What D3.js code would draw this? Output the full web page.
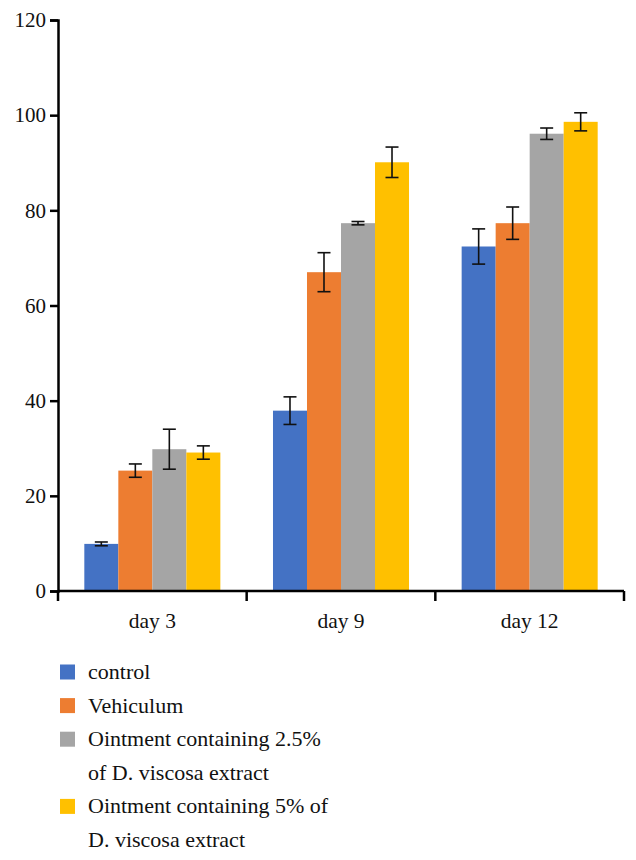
<!DOCTYPE html>
<html><head><meta charset="utf-8">
<script src="https://cdn.jsdelivr.net/npm/d3@7"></script>
<style>body{margin:0;background:#fff;} svg{display:block;}</style>
</head><body>
<svg id="chart" width="636" height="860"></svg>
<script>
const categories = ["day 3", "day 9", "day 12"];
const seriesNames = ["control", "Vehiculum", "Ointment containing 2.5% of D. viscosa extract", "Ointment containing 5% of D. viscosa extract"];
const legendLines = [["control"], ["Vehiculum"], ["Ointment containing 2.5%", "of D. viscosa extract"], ["Ointment containing 5% of", "D. viscosa extract"]];
const controlValues = [9.9, 37.9, 72.4];
const vehiculumValues = [25.3, 67.0, 77.3];
const oint25Values = [29.8, 77.3, 96.1];
const oint5Values = [29.1, 90.1, 98.6];
const controlErr = [0.4, 2.9, 3.7];
const vehiculumErr = [1.4, 4.1, 3.4];
const oint25Err = [4.2, 0.35, 1.2];
const oint5Err = [1.4, 3.2, 1.9];
const yTicks = [0, 20, 40, 60, 80, 100, 120];
const colors = ["#4472C4", "#ED7D31", "#A5A5A5", "#FFC000"];

(function () {
const values = [controlValues, vehiculumValues, oint25Values, oint5Values];
const errs = [controlErr, vehiculumErr, oint25Err, oint5Err];

const svg = d3.select("#chart");
const font = "'Liberation Serif', serif";
const mLeft = 58, mRight = 624, mTop = 20, mBottom = 591;

const x = d3.scaleBand().domain(categories).range([mLeft, mRight]).paddingInner(0).paddingOuter(0);
const inner = d3.scaleBand().domain(d3.range(4)).range([0, x.bandwidth()]).paddingOuter(0.774).paddingInner(0);
const y = d3.scaleLinear().domain([0, 120]).range([mBottom, mTop]);

const data = [];
categories.forEach((c, i) => values.forEach((s, j) => data.push({c, j, v: s[i], e: errs[j][i]})));

svg.append("g").selectAll("rect").data(data).join("rect")
  .attr("x", d => x(d.c) + inner(d.j))
  .attr("y", d => y(d.v))
  .attr("width", inner.bandwidth())
  .attr("height", d => y(0) - y(d.v))
  .attr("fill", d => colors[d.j]);

const eg = svg.append("g").attr("stroke", "#111").attr("stroke-width", 1.6);
data.forEach(d => {
  const cx = x(d.c) + inner(d.j) + inner.bandwidth() / 2;
  eg.append("line").attr("x1", cx).attr("x2", cx).attr("y1", y(d.v + d.e)).attr("y2", y(d.v - d.e));
  eg.append("line").attr("x1", cx - 6.5).attr("x2", cx + 6.5).attr("y1", y(d.v + d.e)).attr("y2", y(d.v + d.e));
  eg.append("line").attr("x1", cx - 6.5).attr("x2", cx + 6.5).attr("y1", y(d.v - d.e)).attr("y2", y(d.v - d.e));
});

const ya = svg.append("g").attr("transform", `translate(${mLeft},0)`)
  .call(d3.axisLeft(y).tickValues(yTicks).tickSize(8).tickPadding(4));
ya.select(".domain").attr("stroke", "#000").attr("stroke-width", 2.5);
ya.selectAll(".tick line").attr("stroke", "#000").attr("stroke-width", 2.5);
ya.selectAll(".tick text").attr("font-family", font).attr("font-size", 21).attr("fill", "#111");

const xa = svg.append("g").attr("transform", `translate(0,${mBottom})`);
xa.append("line").attr("x1", mLeft).attr("x2", mRight).attr("stroke", "#000").attr("stroke-width", 2.5);
const xBounds = categories.map(c => x(c)).concat([mRight]);
xa.selectAll(".xt").data(xBounds).join("line")
  .attr("x1", d => d).attr("x2", d => d).attr("y1", 0).attr("y2", 10)
  .attr("stroke", "#000").attr("stroke-width", 2.5);
xa.selectAll(".xl").data(categories).join("text")
  .attr("x", d => x(d) + x.bandwidth() / 2).attr("y", 37)
  .attr("text-anchor", "middle").attr("font-family", font).attr("font-size", 21.5).attr("fill", "#111")
  .text(d => d);

const lg = svg.append("g");
let row = 0;
legendLines.forEach((lines, i) => {
  const cy = 672 + row * 33.6;
  lg.append("rect").attr("x", 60).attr("y", cy - 7.5).attr("width", 15).attr("height", 15).attr("fill", colors[i]);
  lines.forEach((t, k) => {
    lg.append("text").attr("x", 88).attr("y", cy + k * 33.6 + 7)
      .attr("font-family", font).attr("font-size", 22).attr("fill", "#111").text(t);
  });
  row += lines.length;
});
})();
</script>
</body></html>
